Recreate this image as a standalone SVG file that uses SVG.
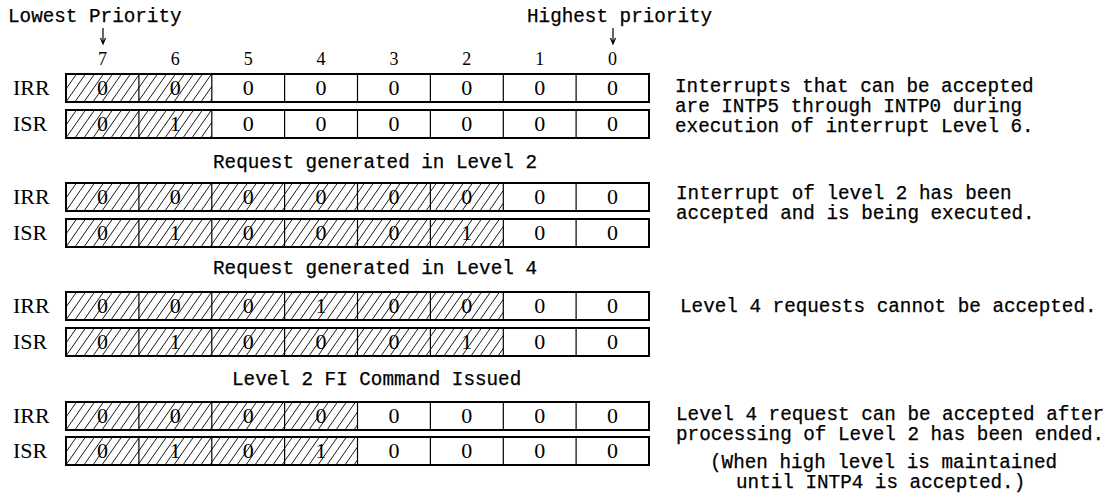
<svg xmlns="http://www.w3.org/2000/svg" width="1119" height="499" viewBox="0 0 1119 499">
<defs>
<pattern id="hatch" patternUnits="userSpaceOnUse" width="9" height="9" patternTransform="skewX(-35)">
<line x1="4.5" y1="0" x2="4.5" y2="9" stroke="#000" stroke-width="0.9"/>
</pattern>
<path id="divs" d="M138.9 0V28M211.8 0V28M284.6 0V28M357.5 0V28M430.4 0V28M503.3 0V28M576.1 0V28" fill="none"/>
</defs>
<style>
.mono{font-family:"Liberation Mono","Courier New",monospace;font-size:19.3px;fill:#000;stroke:#000;stroke-width:0.25}
.serif{font-family:"Liberation Serif","Times New Roman",serif;fill:#000}
.lbl{font-size:22px}
.dig{font-size:22px;text-anchor:middle}
.col{font-size:18px;text-anchor:middle}
.box{fill:none;stroke:#000;stroke-width:2}
.div{stroke:#000;stroke-width:1.2}
.arr{stroke:#000;stroke-width:1.2;fill:none}
</style>
<rect width="1119" height="499" fill="#fff"/>

<g id="header">
<text class="mono" x="8" y="22">Lowest Priority</text>
<text class="mono" x="527" y="22">Highest priority</text>
<g class="serif col">
<text x="102.4" y="65">7</text><text x="175.3" y="65">6</text><text x="248.2" y="65">5</text><text x="321.1" y="65">4</text><text x="394" y="65">3</text><text x="466.8" y="65">2</text><text x="539.7" y="65">1</text><text x="612.6" y="65">0</text>
</g>
</g>

<g id="connectors">
<path class="arr" d="M103 28V43M100.5 38L103 44L105.5 38"/>
<path class="arr" d="M613 28V43M610.5 38L613 44L615.5 38"/>
</g>

<g id="row1-irr" transform="translate(0,74)">
<text class="serif lbl" x="13" y="21">IRR</text>
<rect x="66" y="0" width="145.75" height="28" fill="url(#hatch)"/>
<use href="#divs" class="div"/>
<rect class="box" x="66" y="0" width="583" height="28"/>
<g class="serif dig"><text x="102.4" y="21">0</text><text x="175.3" y="21">0</text><text x="248.2" y="21">0</text><text x="321.1" y="21">0</text><text x="394" y="21">0</text><text x="466.8" y="21">0</text><text x="539.7" y="21">0</text><text x="612.6" y="21">0</text></g>
</g>
<g id="row1-isr" transform="translate(0,110)">
<text class="serif lbl" x="13" y="21">ISR</text>
<rect x="66" y="0" width="145.75" height="28" fill="url(#hatch)"/>
<use href="#divs" class="div"/>
<rect class="box" x="66" y="0" width="583" height="28"/>
<g class="serif dig"><text x="102.4" y="21">0</text><text x="175.3" y="21">1</text><text x="248.2" y="21">0</text><text x="321.1" y="21">0</text><text x="394" y="21">0</text><text x="466.8" y="21">0</text><text x="539.7" y="21">0</text><text x="612.6" y="21">0</text></g>
</g>
<g id="note1">
<text class="mono" x="675" y="92">Interrupts that can be accepted</text>
<text class="mono" x="675" y="112">are INTP5 through INTP0 during</text>
<text class="mono" x="675" y="132">execution of interrupt Level 6.</text>
</g>

<g id="title2"><text class="mono" x="213" y="168">Request generated in Level 2</text></g>
<g id="row2-irr" transform="translate(0,183)">
<text class="serif lbl" x="13" y="21">IRR</text>
<rect x="66" y="0" width="437.25" height="28" fill="url(#hatch)"/>
<use href="#divs" class="div"/>
<rect class="box" x="66" y="0" width="583" height="28"/>
<g class="serif dig"><text x="102.4" y="21">0</text><text x="175.3" y="21">0</text><text x="248.2" y="21">0</text><text x="321.1" y="21">0</text><text x="394" y="21">0</text><text x="466.8" y="21">0</text><text x="539.7" y="21">0</text><text x="612.6" y="21">0</text></g>
</g>
<g id="row2-isr" transform="translate(0,219)">
<text class="serif lbl" x="13" y="21">ISR</text>
<rect x="66" y="0" width="437.25" height="28" fill="url(#hatch)"/>
<use href="#divs" class="div"/>
<rect class="box" x="66" y="0" width="583" height="28"/>
<g class="serif dig"><text x="102.4" y="21">0</text><text x="175.3" y="21">1</text><text x="248.2" y="21">0</text><text x="321.1" y="21">0</text><text x="394" y="21">0</text><text x="466.8" y="21">1</text><text x="539.7" y="21">0</text><text x="612.6" y="21">0</text></g>
</g>
<g id="note2">
<text class="mono" x="676" y="199">Interrupt of level 2 has been</text>
<text class="mono" x="676" y="219">accepted and is being executed.</text>
</g>

<g id="title3"><text class="mono" x="213" y="274">Request generated in Level 4</text></g>
<g id="row3-irr" transform="translate(0,292)">
<text class="serif lbl" x="13" y="21">IRR</text>
<rect x="66" y="0" width="437.25" height="28" fill="url(#hatch)"/>
<use href="#divs" class="div"/>
<rect class="box" x="66" y="0" width="583" height="28"/>
<g class="serif dig"><text x="102.4" y="21">0</text><text x="175.3" y="21">0</text><text x="248.2" y="21">0</text><text x="321.1" y="21">1</text><text x="394" y="21">0</text><text x="466.8" y="21">0</text><text x="539.7" y="21">0</text><text x="612.6" y="21">0</text></g>
</g>
<g id="row3-isr" transform="translate(0,328)">
<text class="serif lbl" x="13" y="21">ISR</text>
<rect x="66" y="0" width="437.25" height="28" fill="url(#hatch)"/>
<use href="#divs" class="div"/>
<rect class="box" x="66" y="0" width="583" height="28"/>
<g class="serif dig"><text x="102.4" y="21">0</text><text x="175.3" y="21">1</text><text x="248.2" y="21">0</text><text x="321.1" y="21">0</text><text x="394" y="21">0</text><text x="466.8" y="21">1</text><text x="539.7" y="21">0</text><text x="612.6" y="21">0</text></g>
</g>
<g id="note3">
<text class="mono" x="680" y="312">Level 4 requests cannot be accepted.</text>
</g>

<g id="title4"><text class="mono" x="232" y="385">Level 2 FI Command Issued</text></g>
<g id="row4-irr" transform="translate(0,402)">
<text class="serif lbl" x="13" y="21">IRR</text>
<rect x="66" y="0" width="291.5" height="28" fill="url(#hatch)"/>
<use href="#divs" class="div"/>
<rect class="box" x="66" y="0" width="583" height="28"/>
<g class="serif dig"><text x="102.4" y="21">0</text><text x="175.3" y="21">0</text><text x="248.2" y="21">0</text><text x="321.1" y="21">0</text><text x="394" y="21">0</text><text x="466.8" y="21">0</text><text x="539.7" y="21">0</text><text x="612.6" y="21">0</text></g>
</g>
<g id="row4-isr" transform="translate(0,437)">
<text class="serif lbl" x="13" y="21">ISR</text>
<rect x="66" y="0" width="291.5" height="28" fill="url(#hatch)"/>
<use href="#divs" class="div"/>
<rect class="box" x="66" y="0" width="583" height="28"/>
<g class="serif dig"><text x="102.4" y="21">0</text><text x="175.3" y="21">1</text><text x="248.2" y="21">0</text><text x="321.1" y="21">1</text><text x="394" y="21">0</text><text x="466.8" y="21">0</text><text x="539.7" y="21">0</text><text x="612.6" y="21">0</text></g>
</g>
<g id="note4">
<text class="mono" x="676" y="420">Level 4 request can be accepted after</text>
<text class="mono" x="676" y="440">processing of Level 2 has been ended.</text>
<text class="mono" x="710" y="468">(When high level is maintained</text>
<text class="mono" x="736" y="488">until INTP4 is accepted.)</text>
</g>
</svg>
